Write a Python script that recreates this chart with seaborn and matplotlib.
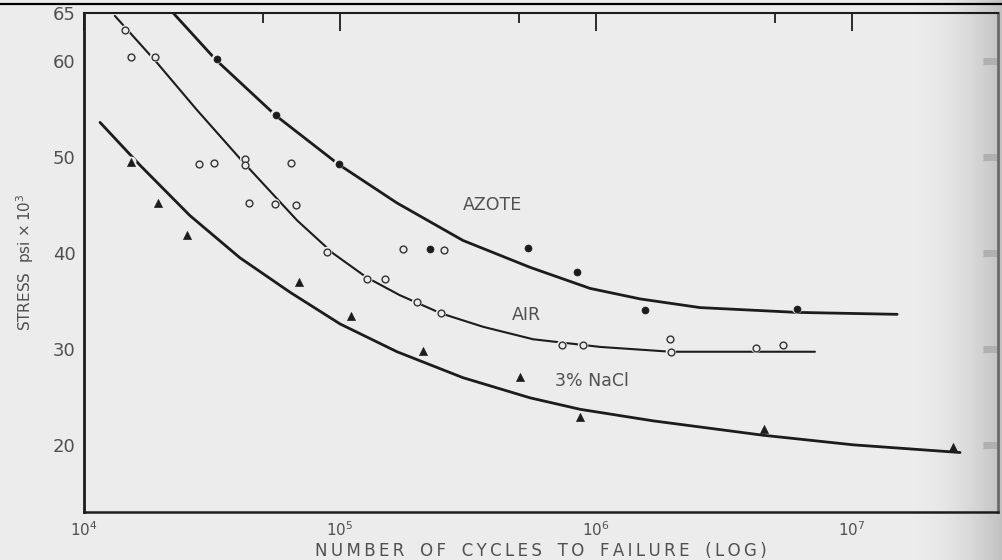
import numpy as np
import matplotlib.pyplot as plt
from matplotlib.colors import LinearSegmentedColormap
from matplotlib.ticker import FixedLocator, NullFormatter
import seaborn as sns

# data
azote_cycles = [3.3e4, 5.6e4, 9.9e4, 2.25e5, 5.4e5, 8.4e5, 1.55e6, 6.1e6]
azote_stress = [60.2, 54.4, 49.3, 40.4, 40.5, 38.0, 34.1, 34.2]

air_cycles = [1.45e4, 1.53e4, 1.89e4, 2.81e4, 3.22e4, 4.26e4, 4.26e4, 6.44e4,
              4.42e4, 5.57e4, 6.73e4, 8.9e4, 1.28e5, 1.5e5, 1.76e5, 2.55e5,
              2.0e5, 2.48e5, 7.36e5, 8.9e5, 1.95e6, 1.96e6, 4.22e6, 5.37e6]
air_stress = [63.2, 60.4, 60.4, 49.3, 49.4, 49.8, 49.2, 49.4,
              45.2, 45.1, 45.0, 40.1, 37.3, 37.3, 40.4, 40.3,
              34.9, 33.75, 30.4, 30.4, 31.0, 29.7, 30.1, 30.4]

nacl_cycles = [1.53e4, 1.95e4, 2.52e4, 6.92e4, 1.1e5, 2.11e5, 5.05e5, 8.67e5, 4.53e6, 2.48e7]
nacl_stress = [49.5, 45.2, 41.9, 37.0, 33.4, 29.8, 27.1, 22.9, 21.7, 19.8]

# hand-drawn fitted curves
azote_curve_n = [2.23e4, 3.28e4, 5.62e4, 9.9e4, 1.67e5, 3.02e5, 5.52e5, 9.48e5,
                 1.49e6, 2.55e6, 6.1e6, 1.5e7]
azote_curve_s = [65.0, 60.1, 54.3, 49.2, 45.2, 41.3, 38.5, 36.3, 35.2, 34.3, 33.8, 33.6]

air_curve_n = [1.32e4, 1.93e4, 2.76e4, 4.14e4, 6.79e4, 9.4e4, 1.27e5, 1.71e5,
               2.48e5, 3.62e5, 5.68e5, 1.04e6, 1.96e6, 7.16e6]
air_curve_s = [64.7, 59.8, 54.9, 49.6, 43.4, 39.95, 37.45, 35.6, 33.7, 32.3,
               31.0, 30.2, 29.7, 29.7]

nacl_curve_n = [1.155e4, 1.66e4, 2.59e4, 4.06e4, 6.38e4, 1.0e5, 1.67e5, 3.02e5,
                5.52e5, 8.67e5, 1.67e6, 4.49e6, 1.01e7, 2.64e7]
nacl_curve_s = [53.6, 49.1, 43.9, 39.5, 35.9, 32.6, 29.7, 27.0, 24.9, 23.7,
                22.5, 21.0, 20.0, 19.2]

x_major = [1e4, 1e5, 1e6, 1e7]
x_minor = [5e4, 5e5, 5e6]
x_labels = ['$10^{4}$', '$10^{5}$', '$10^{6}$', '$10^{7}$']
y_ticks = [20, 30, 40, 50, 60, 65]

BG = '#ececec'
INK = '#1c1c1c'
TXT = '#505050'

sns.set_theme(style='white')
plt.rcParams['font.family'] = ['DejaVu Sans']

fig = plt.figure(figsize=(10.03, 5.60), dpi=100, facecolor=BG)

# scanned page darkening towards the right edge
bg_ax = fig.add_axes([0.91, 0, 0.09, 1], zorder=-5)
shade = LinearSegmentedColormap.from_list('shade', [BG, '#c0c0c0'])
grad = np.linspace(0, 1, 200)[None, :] ** 1.8
bg_ax.imshow(grad, aspect='auto', cmap=shade, vmin=0, vmax=1, extent=[0, 1, 0, 1])
bg_ax.axis('off')

ax = fig.add_axes([84 / 1003, 1 - 512 / 560, 914 / 1003, 499 / 560])
ax.set_facecolor('none')
ax.set_xscale('log')
ax.set_xlim(1e4, 10 ** 7.57)
ax.set_ylim(13.0, 65.0)

curves = [(azote_curve_n, azote_curve_s, 2.0),
          (air_curve_n, air_curve_s, 1.5),
          (nacl_curve_n, nacl_curve_s, 2.0)]
for cn, cs, lw in curves:
    sns.lineplot(x=cn, y=cs, ax=ax, color=INK, lw=lw, estimator=None,
                 sort=False, zorder=2)

# halos in paper colour leave the small gaps where a curve meets a point
for xs, ys in [(azote_cycles, azote_stress), (air_cycles, air_stress),
               (nacl_cycles[:-1], nacl_stress[:-1])]:
    ax.scatter(xs, ys, s=55, color=BG, edgecolor='none', zorder=3)

sns.scatterplot(x=azote_cycles, y=azote_stress, ax=ax, marker='o', s=26,
                color=INK, edgecolor=INK, zorder=4)
sns.scatterplot(x=air_cycles, y=air_stress, ax=ax, marker='o', s=24,
                facecolor=BG, edgecolor='#333333', linewidth=1.0, zorder=4)
sns.scatterplot(x=nacl_cycles, y=nacl_stress, ax=ax, marker='^', s=34,
                color=INK, edgecolor=INK, zorder=4)

ax.text(10 ** 5.594, 44.1, 'AZOTE', ha='center', va='bottom', fontsize=12.5, color=TXT)
ax.text(10 ** 5.73, 32.6, 'AIR', ha='center', va='bottom', fontsize=12.5, color=TXT)
ax.text(10 ** 5.985, 25.7, '3% NaCl', ha='center', va='bottom', fontsize=12.5, color=TXT)

# frame
for side in ['left', 'bottom', 'top', 'right']:
    ax.spines[side].set_visible(True)
    ax.spines[side].set_color(INK)
ax.spines['left'].set_linewidth(2.0)
ax.spines['bottom'].set_linewidth(1.8)
ax.spines['top'].set_linewidth(1.5)
ax.spines['right'].set_color('#6a6a6a')
ax.spines['right'].set_linewidth(2.0)

ax.xaxis.set_major_locator(FixedLocator(x_major))
ax.xaxis.set_minor_locator(FixedLocator(x_minor))
ax.xaxis.set_minor_formatter(NullFormatter())
ax.set_xticklabels(x_labels)
ax.tick_params(axis='x', which='major', direction='in', length=13, width=1.3,
               color=INK, top=True, labelsize=11, labelcolor=TXT, pad=6)
ax.tick_params(axis='x', which='minor', direction='in', length=7, width=1.3,
               color=INK, top=True)

ax.set_yticks(y_ticks)
ax.set_yticklabels([str(v) for v in y_ticks])
ax.tick_params(axis='y', direction='in', length=18, width=1.3, color=INK,
               labelsize=13, labelcolor=TXT, pad=6, right=True)
ax.yaxis.get_major_ticks()[-1].tick1line.set_visible(False)
ax.yaxis.get_major_ticks()[-1].tick2line.set_visible(False)
for t in ax.yaxis.get_major_ticks():
    t.tick2line.set_markeredgecolor('#b0b0b0')
    t.tick2line.set_markersize(11)
    t.tick2line.set_markeredgewidth(5)

# wide letter spacing of the old typeset label
words = ['NUMBER', 'OF', 'CYCLES', 'TO', 'FAILURE', '(LOG)']
xlabel = '   '.join('\u2009'.join(w) for w in words)
ax.set_xlabel(xlabel, fontsize=12, color=TXT, labelpad=2)
ax.set_ylabel('STRESS  psi $\\times\\,10^{3}$', fontsize=11, color=TXT, labelpad=12)

# dark edge of the scanned page along the top
fig.add_artist(plt.Line2D([0, 1], [1 - 4 / 560] * 2, color='black', lw=1.6))

fig.savefig('out.png', dpi=100, facecolor=BG)
